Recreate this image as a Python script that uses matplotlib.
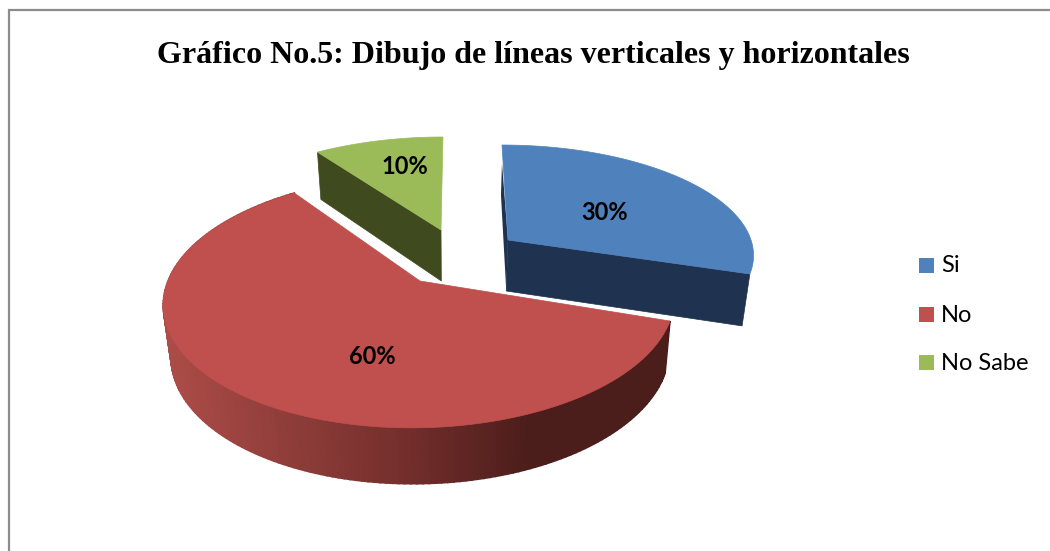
# Grafico de pizza 3D (desenhado a mao com poligonos, matplotlib nao tem pie 3D)
import numpy as np
import matplotlib
matplotlib.use('Agg')
import matplotlib.pyplot as plt
from matplotlib.patches import Polygon, Rectangle

titulo = 'Gráfico No.5: Dibujo de líneas verticales y horizontales'
categorias = ['Si', 'No', 'No Sabe']
valores = [30, 60, 10]

cores_topo = ['#4F81BD', '#C0504D', '#9BBB59']
cores_corte = ['#1F324F', '#4A1C1A', '#3F4A1F']

# geometria de cada fatia (pixels da figura)
apices = [(508, 240), (420, 281), (441, 230)]
raios = [243, 252, 250]
Bs = [106, 123, 113]
Ks = [0.116, 0.1625, 0.215]
fugas = [450, 465, 452]
PROF = 51


def ponto(i, ang):
    u = np.sin(ang)
    v = np.cos(ang)
    s = 1 / (1 + Ks[i] * v)
    ax_, ay_ = apices[i]
    x = ax_ + raios[i] * u * s + (fugas[i] - ax_) * (1 - s)
    y = ay_ - Bs[i] * v * s
    return x, y, s


def ponto_baixo(i, ang):
    x, y, s = ponto(i, ang)
    ax_, ay_ = apices[i]
    xb = ax_ - 0.03 * (ax_ - fugas[i]) + (x - ax_) * 0.975
    yb = y + PROF + 25 * (s - 1)
    return xb, yb


def cor_lateral(x):
    r = np.interp(x, [165, 400, 530, 680], [172, 116, 75, 75])
    g = np.interp(x, [165, 400, 530, 680], [76, 47, 29, 29])
    b = np.interp(x, [165, 400, 530, 680], [72, 44, 27, 27])
    return (r / 255, g / 255, b / 255)


fig = plt.figure(figsize=(10.5, 5.51), dpi=100)
ax = fig.add_axes([0, 0, 1, 1])
ax.set_xlim(0, 1050)
ax.set_ylim(551, 0)
ax.axis('off')

# moldura (so esquerda e topo aparecem)
ax.plot([9, 9, 1050], [551, 10, 10], color='#8C8C8C', lw=1.6, solid_joinstyle='miter')

total = sum(valores)
inicio = np.cumsum([0] + valores[:-1]) / total * 2 * np.pi
fim = np.cumsum(valores) / total * 2 * np.pi

for i in [2, 0, 1]:
    angs = np.linspace(inicio[i], fim[i], 180)
    ax_, ay_ = apices[i]
    base = (ax_ - 0.03 * (ax_ - fugas[i]), ay_ + PROF)

    if i == 1:
        # lateral curva com degrade
        for a0, a1 in zip(angs[:-1], angs[1:]):
            p0 = ponto(i, a0)[:2]
            p1 = ponto(i, a1)[:2]
            q0 = ponto_baixo(i, a0)
            q1 = ponto_baixo(i, a1)
            c = cor_lateral((p0[0] + p1[0]) / 2)
            ax.add_patch(Polygon([p0, p1, q1, q0], fc=c, ec=c, lw=1.2))
    elif i == 0:
        # face de corte visivel e fresta escura do lado esquerdo
        p = ponto(i, fim[i])[:2]
        q = ponto_baixo(i, fim[i])
        ax.add_patch(Polygon([(ax_, ay_), p, q, base], fc=cores_corte[i], ec=cores_corte[i], lw=0.5))
        t = ponto(i, inicio[i])[:2]
        ax.add_patch(Polygon([(t[0], t[1] + 18), (t[0] - 1, t[1] + 50), base, (ax_, ay_)],
                             fc=cores_corte[i], ec='none'))
    else:
        p = ponto(i, inicio[i])[:2]
        q = ponto_baixo(i, inicio[i])
        ax.add_patch(Polygon([(ax_, ay_), p, q, base], fc=cores_corte[i], ec=cores_corte[i], lw=0.5))

    topo = [(ax_, ay_)] + [ponto(i, a)[:2] for a in angs]
    ax.add_patch(Polygon(topo, fc=cores_topo[i], ec=cores_topo[i], lw=0.5))

# rotulos
pos_rotulos = [(605, 212), (372, 357), (405, 167)]
for (x, y), v in zip(pos_rotulos, valores):
    ax.text(x, y, f'{v}%', ha='center', va='center', fontsize=17, fontweight='bold',
            family='Lato', color='black')

ax.text(533, 55, titulo, ha='center', va='center', fontsize=23, fontweight='bold',
        family='Liberation Serif', color='black')

# legenda
ys = [265.5, 314.5, 362.5]
for y, nome, cor in zip(ys, categorias, cores_topo):
    ax.add_patch(Rectangle((919, y - 7.5), 15, 15, fc=cor, ec='none'))
    ax.text(941, y + 0.5, nome, ha='left', va='center', fontsize=17, family='Lato', color='black')

fig.savefig('out.png', dpi=100)
